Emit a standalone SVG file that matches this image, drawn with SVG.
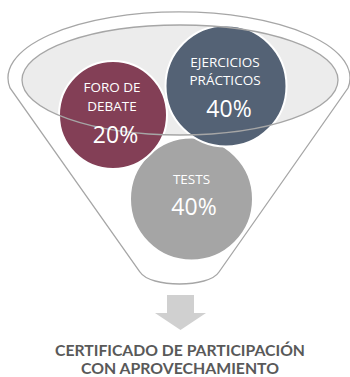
<svg xmlns="http://www.w3.org/2000/svg" width="350" height="377" viewBox="0 0 350 377">
  <style>
    .rim { fill: none; stroke: #a6a6a6; stroke-width: 1.3; }
    .node { stroke: #ffffff; stroke-width: 2; }
    .lbl { font-family: "Open Sans", "Liberation Sans", sans-serif; fill: #ffffff; text-anchor: middle; font-size: 13.5px; }
    .pct { font-size: 23px; }
    .title { font-family: Lato, "Open Sans", sans-serif; font-weight: bold; fill: #595959; text-anchor: middle; font-size: 15px; }
  </style>
  <rect width="350" height="377" fill="#ffffff"/>
  <g id="funnel">
    <path class="rim" d="M10,88 A171,66 0 1 1 348,88 L219,272 C209,288 150,288 140,272 Z" style="fill:#ffffff"/>
    <ellipse cx="180" cy="80" rx="158" ry="55" fill="#ececec"/>
  </g>
  <g id="node-tests">
    <circle class="node" cx="191.5" cy="199" r="61.5" fill="#a5a5a5"/>
    <text class="lbl" x="191.5" y="184">TESTS</text>
    <text class="lbl pct" x="194" y="215">40%</text>
  </g>
  <g id="node-foro">
    <circle class="node" cx="113" cy="115" r="54" fill="#833f56"/>
    <text class="lbl" x="112" y="92">FORO DE</text>
    <text class="lbl" x="112" y="111">DEBATE</text>
  </g>
  <g id="node-ejercicios">
    <circle class="node" cx="226" cy="86" r="60.5" fill="#546275"/>
    <text class="lbl" x="225" y="67">EJERCICIOS</text>
    <text class="lbl" x="225" y="85">PRÁCTICOS</text>
    <text class="lbl pct" x="229" y="117">40%</text>
  </g>
  <g id="funnel-rim">
    <ellipse class="rim" cx="180" cy="80" rx="158" ry="55"/>
  </g>
  <g id="node-foro-value">
    <text class="lbl pct" x="115.5" y="143">20%</text>
  </g>
  <g id="connectors">
    <polygon points="167,295 194,295 194,313 206,313 180.5,330 155,313 167,313" fill="#d0d0d0"/>
  </g>
  <g id="node-certificado">
    <text class="title" x="180" y="355.5" textLength="250" lengthAdjust="spacingAndGlyphs">CERTIFICADO DE PARTICIPACIÓN</text>
    <text class="title" x="180" y="373.5" textLength="198" lengthAdjust="spacingAndGlyphs">CON APROVECHAMIENTO</text>
  </g>
</svg>
